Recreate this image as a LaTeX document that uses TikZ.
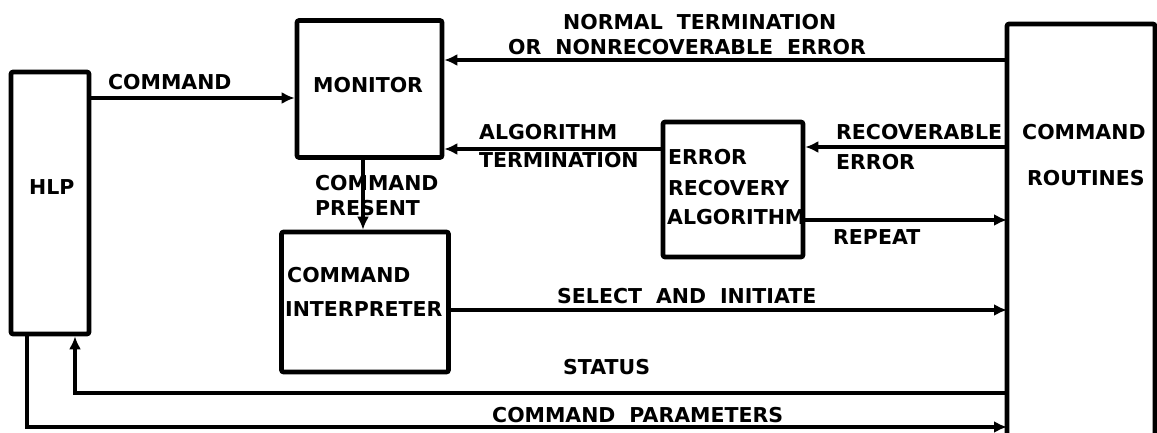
\documentclass[tikz,border=0pt]{standalone}
\usepackage{fontspec}
\newfontfamily\lblfont{DejaVu Sans}
\newcommand\lblsetup{\lblfont\bfseries\fontsize{20.5}{24}\selectfont\spaceskip=14pt\relax}
\usetikzlibrary{arrows.meta}
\begin{document}
\begin{tikzpicture}[x=1pt,y=-1pt,
  blk/.style={draw, line width=4.6pt, rounded corners=2pt, inner sep=0pt},
  conn/.style={line width=3.8pt},
  arr/.style={conn, -{Latex[length=13pt,width=12pt]}},
  lbl/.style={anchor=west, inner sep=0pt, font={\lblsetup}}]
\clip (0,0) rectangle (1157,433);
% boxes
\node[blk, minimum width=78pt, minimum height=262pt] (hlp) at (50,203) {};
\node[blk, minimum width=145pt, minimum height=137pt] (mon) at (369.5,89) {};
\node[blk, minimum width=167pt, minimum height=140pt] (ci) at (365,302) {};
\node[blk, minimum width=140pt, minimum height=135pt] (era) at (733,189.5) {};
\coordinate (crA) at (1007,460);
\coordinate (crB) at (1155,460);
\draw[line width=4.6pt, rounded corners=2pt] (crA) -- (1007,24) -- (1155,24) -- (crB);
% box texts
\node[lbl] (thlp) at (29,187) {HLP};
\node[lbl] (tmon) at (313,85) {MONITOR};
\node[lbl] (tci1) at (287,275) {COMMAND};
\node[lbl] (tci2) at (285,309) {INTERPRETER};
\node[lbl] (tera1) at (668,157) {ERROR};
\node[lbl] (tera2) at (668,188) {RECOVERY};
\node[lbl] (tera3) at (667,217) {ALGORITHM};
\node[lbl] (tcr1) at (1022,132) {COMMAND};
\node[lbl] (tcr2) at (1027,178) {ROUTINES};
% connector end points on the command routines edge
\coordinate (crN) at (1007,60);
\coordinate (crR) at (1007,147);
\coordinate (crP) at (1007,220);
\coordinate (crS) at (1007,310);
\coordinate (crT) at (1007,393);
\coordinate (crC) at (1007,427);
\coordinate (stc) at (75,393);
\coordinate (pac) at (27,427);
% connectors
\draw[arr] (hlp.east |- 0,98) -- (mon.west |- 0,98);
\draw[arr] (crN) -- (mon.east |- crN);
\draw[arr] (era.west |- 0,149) -- (mon.east |- 0,149);
\draw[arr] (crR) -- (era.east |- crR);
\draw[arr] (era.east |- crP) -- (crP);
\draw[arr] (mon.south -| 363,0) -- (ci.north -| 363,0);
\draw[arr] (ci.east |- crS) -- (crS);
\draw[arr] (crT) -- (stc) -- (hlp.south -| stc);
\draw[arr] (hlp.south -| pac) -- (pac) -- (crC);
% connector labels
\node[lbl] (lcmd) at (108,82) {COMMAND};
\node[lbl] (lnt1) at (563,22) {NORMAL TERMINATION};
\node[lbl] (lnt2) at (508,47) {OR NONRECOVERABLE ERROR};
\node[lbl] (lat1) at (479,132) {ALGORITHM};
\node[lbl] (lat2) at (479,160) {TERMINATION};
\node[lbl] (lre1) at (836,132) {RECOVERABLE};
\node[lbl] (lre2) at (836,162) {ERROR};
\node[lbl] (lrep) at (833,237) {REPEAT};
\node[lbl] (lcp1) at (315,183) {COMMAND};
\node[lbl] (lcp2) at (315,208) {PRESENT};
\node[lbl] (lsel) at (557,296) {SELECT AND INITIATE};
\node[lbl] (lsta) at (563,367) {STATUS};
\node[lbl] (lpar) at (492,415) {COMMAND PARAMETERS};
\end{tikzpicture}
\end{document}
